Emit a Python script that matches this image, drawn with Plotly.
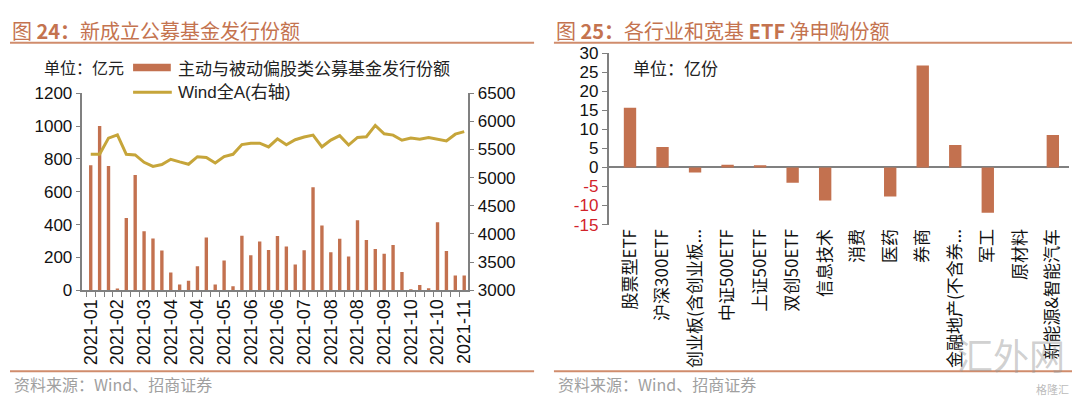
import plotly.graph_objects as go

# ---------------- data ----------------
# Left panel: weekly issuance (亿元) and Wind全A index (right axis)
fund_issuance = [761, 1000, 757, 11, 440, 702, 359, 316, 242, 108, 35, 58, 146, 321, 35,
                 182, 24, 332, 214, 297, 245, 331, 266, 157, 244, 628, 395, 231, 314, 205,
                 426, 306, 252, 222, 276, 112, 3, 32, 12, 415, 239, 90, 90]
wind_a = [5415, 5415, 5702, 5759, 5415, 5403, 5272, 5200, 5232, 5326, 5280, 5238, 5372, 5358, 5261,
          5375, 5415, 5587, 5610, 5612, 5545, 5690, 5585, 5673, 5721, 5756, 5548, 5667, 5746, 5579,
          5715, 5727, 5928, 5780, 5755, 5665, 5704, 5684, 5713, 5681, 5653, 5772, 5817]
week_index = list(range(len(fund_issuance)))
week_tick_labels = ["2021-01", "2021-02", "2021-03", "2021-04", "2021-04", "2021-05", "2021-06",
                    "2021-06", "2021-07", "2021-08", "2021-08", "2021-09", "2021-10", "2021-10",
                    "2021-11"]
week_tick_step = 3

# Right panel: ETF net subscription (亿份)
etf_categories = ["股票型ETF", "沪深300ETF", "创业板(含创业板...", "中证500ETF", "上证50ETF",
                  "双创50ETF", "信息技术", "消费", "医药", "券商", "金融地产(不含券...",
                  "军工", "原材料", "新能源&智能汽车"]
etf_net = [15.7, 5.4, -1.3, 0.7, 0.6, -4.0, -8.7, 0, -7.6, 26.8, 5.9, -11.9, 0, 8.5]
etf_ticks = [30, 25, 20, 15, 10, 5, 0, -5, -10, -15]

# ---------------- style ----------------
W, H = 1080, 398
BAR = "#C3714F"
LINE = "#C6A53A"
TITLE = "#C4734F"
RULE = "#D08C6C"
AXIS = "#808080"
FONT = "Liberation Sans, Arial, Noto Sans CJK SC"
CJK = "Noto Sans CJK SC, Liberation Sans"


def px(x):
    return x / W


def py(y):
    return 1 - y / H


fig = go.Figure()

fig.add_trace(go.Bar(x=week_index, y=fund_issuance, marker_color=BAR, marker_line_width=0,
                     name="主动与被动偏股类公募基金发行份额", xaxis="x", yaxis="y", showlegend=False))
fig.add_trace(go.Scatter(x=week_index, y=wind_a, mode="lines", line=dict(color=LINE, width=3),
                         name="Wind全A(右轴)", xaxis="x", yaxis="y2", showlegend=False))
fig.add_trace(go.Bar(x=etf_categories, y=etf_net, marker_color=BAR, marker_line_width=0,
                     name="净申购份额", xaxis="x2", yaxis="y3", showlegend=False))

tick_font = dict(family=FONT, size=17, color="#111111")

fig.update_layout(
    width=W, height=H, margin=dict(l=0, r=0, t=0, b=0),
    paper_bgcolor="white", plot_bgcolor="white",
    bargap=0.62,
    xaxis=dict(domain=[px(73), px(461)], anchor="y", range=[-0.93, 42.38],
               tickmode="array", tickvals=week_index[::week_tick_step], ticktext=week_tick_labels,
               tickangle=-90, tickfont=dict(family=FONT, size=18, color="#111111"),
               showline=True, linecolor=AXIS, linewidth=1.5, ticks="", showgrid=False,
               zeroline=False,
               minor=dict(ticks="outside", tick0=-0.5, dtick=1, ticklen=5, tickcolor=AXIS,
                          tickwidth=1.2, showgrid=False)),
    yaxis=dict(domain=[py(287), py(80)], anchor="x", range=[0, 1200], tickmode="linear",
               tick0=0, dtick=200, tickfont=tick_font, showline=True, linecolor=AXIS,
               linewidth=1.5, ticks="outside", ticklen=5, tickcolor=AXIS, showgrid=False,
               zeroline=False),
    yaxis2=dict(overlaying="y", side="right", anchor="x", range=[3000, 6500], tickmode="linear",
                tick0=3000, dtick=500, tickfont=tick_font, showline=True, linecolor=AXIS,
                linewidth=1.5, ticks="outside", ticklen=5, tickcolor=AXIS, showgrid=False,
                zeroline=False),
    xaxis2=dict(domain=[px(603), px(1067)], anchor="y3", type="category", range=[-0.66, 13.5],
                tickangle=-90, tickfont=dict(family=CJK, size=17, color="#111111"),
                showline=False, ticks="", showgrid=False, zeroline=False),
    yaxis3=dict(domain=[py(218), py(38)], anchor="x2", range=[-15, 30], tickmode="array",
                tickvals=etf_ticks,
                ticktext=[(f"<span style='color:#D2232A'>{v}</span>" if v < 0 else str(v))
                          for v in etf_ticks],
                tickfont=tick_font, showline=True, linecolor=AXIS, linewidth=1.5,
                ticks="outside", ticklen=5, tickcolor=AXIS, showgrid=False,
                zeroline=True, zerolinecolor=AXIS, zerolinewidth=1.5),
)

annotations = [
    dict(x=px(0), y=py(14), text="图 <b>24：</b>新成立公募基金发行份额", xanchor="left",
         font=dict(family=CJK, size=20, color=TITLE)),
    dict(x=px(548), y=py(14), text="图 <b>25：</b>各行业和宽基 <b>ETF</b> 净申购份额",
         xanchor="left", font=dict(family=CJK, size=20, color=TITLE)),
    dict(x=px(32), y=py(53), text="单位：亿元", xanchor="left",
         font=dict(family=CJK, size=16, color="#222222")),
    dict(x=px(167), y=py(53), text="主动与被动偏股类公募基金发行份额", xanchor="left",
         font=dict(family=CJK, size=17, color="#222222")),
    dict(x=px(167), y=py(79), text="Wind全A(右轴)", xanchor="left",
         font=dict(family=FONT, size=17, color="#222222")),
    dict(x=px(626), y=py(53), text="单位：亿份", xanchor="left",
         font=dict(family=CJK, size=17, color="#222222")),
    dict(x=px(2), y=py(385), text="资料来源：Wind、招商证券", xanchor="left",
         font=dict(family=CJK, size=16, color="#A0A0A0")),
    dict(x=px(550), y=py(385), text="资料来源：Wind、招商证券", xanchor="left",
         font=dict(family=CJK, size=16, color="#A0A0A0")),
    dict(x=px(1008), y=py(354), text="汇外网", xanchor="center",
         font=dict(family=CJK, size=36, color="rgba(150,150,150,0.45)")),
    dict(x=px(1050), y=py(391), text="格隆汇", xanchor="center",
         font=dict(family=CJK, size=11, color="rgba(140,140,140,0.6)")),
]
for a in annotations:
    a.update(xref="paper", yref="paper", showarrow=False, yanchor="middle")
fig.update_layout(annotations=annotations)

shapes = [
    # title rules
    dict(type="line", x0=px(0), x1=px(528), y0=py(27), y1=py(27), line=dict(color=RULE, width=2)),
    dict(type="line", x0=px(548), x1=px(1076), y0=py(27), y1=py(27), line=dict(color=RULE, width=2)),
    # bottom rules
    dict(type="line", x0=px(0), x1=px(528), y0=py(372), y1=py(372), line=dict(color=RULE, width=2)),
    dict(type="line", x0=px(548), x1=px(1076), y0=py(372), y1=py(372), line=dict(color=RULE, width=2)),
    # legend swatches
    dict(type="rect", x0=px(124), x1=px(162), y0=py(57), y1=py(49), fillcolor=BAR, line_width=0),
    dict(type="line", x0=px(124), x1=px(163), y0=py(79), y1=py(79), line=dict(color=LINE, width=3)),
]
for s in shapes:
    s.update(xref="paper", yref="paper")
fig.update_layout(shapes=shapes)

fig.write_html("out.html")
